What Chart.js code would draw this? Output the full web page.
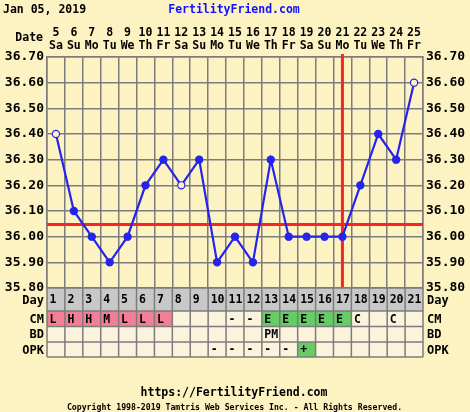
<!DOCTYPE html>
<html>
<head>
<meta charset="utf-8">
<script src="https://cdn.jsdelivr.net/npm/chart.js@4.4.1/dist/chart.umd.min.js"></script>
<style>
  html, body { margin: 0; padding: 0; background: #fdf2c2; }
</style>
</head>
<body>
<canvas id="grafica" width="470" height="412"></canvas>
<script>
// ---- datos ----
const cycleDays = [1, 2, 3, 4, 5, 6, 7, 8, 9, 10, 11, 12, 13, 14, 15, 16, 17, 18, 19, 20, 21];
const dateNums  = [5, 6, 7, 8, 9, 10, 11, 12, 13, 14, 15, 16, 17, 18, 19, 20, 21, 22, 23, 24, 25];
const weekDays  = ['Sa','Su','Mo','Tu','We','Th','Fr','Sa','Su','Mo','Tu','We','Th','Fr','Sa','Su','Mo','Tu','We','Th','Fr'];
const temps     = [36.40, 36.10, 36.00, 35.90, 36.00, 36.20, 36.30, 36.20, 36.30, 35.90, 36.00, 35.90, 36.30,
                   36.00, 36.00, 36.00, 36.00, 36.20, 36.40, 36.30, 36.60];
const openDays  = [1, 8, 21];          // temperaturas descartadas (círculo vacío)
const coverline = 36.05;
const ovulationDay = 17;
const cmObs  = ['L','H','H','M','L','L','L','','','','-','-','E','E','E','E','E','C','','C',''];
const bdObs  = ['','','','','','','','','','','','','PM','','','','','','','',''];
const opkObs = ['','','','','','','','','','-','-','-','-','-','+','','','','','',''];
const tempMin = 35.80, tempMax = 36.70, tempStep = 0.10;

const BG = '#fdf2c2';
const GRID = '#7c7c7c';
const BLUE = '#2424ee';
const RED = '#fa2424';
const FONT = '"DejaVu Sans Mono", monospace';

// ---- plugin: líneas rojas, tabla y textos ----
const extras = {
  id: 'extras',
  beforeDatasetsDraw(chart) {
    const { ctx, chartArea: a, scales: { x, y } } = chart;
    ctx.save();
    ctx.strokeStyle = RED;
    ctx.lineWidth = 3;
    const cy = Math.round(y.getPixelForValue(coverline)) + 0.5;
    ctx.beginPath(); ctx.moveTo(a.left, cy); ctx.lineTo(a.right, cy); ctx.stroke();
    const ox = x.getPixelForValue(ovulationDay - 1);
    ctx.beginPath(); ctx.moveTo(ox, a.top - 3); ctx.lineTo(ox, a.bottom); ctx.stroke();
    ctx.restore();
  },
  afterDraw(chart) {
    const { ctx, chartArea: a, scales: { x } } = chart;
    const colW = (a.right - a.left) / cycleDays.length;
    ctx.save();

    // tabla
    const rows = [
      { label: 'Day', h: 23, vals: cycleDays.map(String) },
      { label: 'CM',  h: 15.5, vals: cmObs },
      { label: 'BD',  h: 15.5, vals: bdObs },
      { label: 'OPK', h: 15, vals: opkObs }
    ];
    let top = a.bottom;
    rows.forEach((r, ri) => {
      cycleDays.forEach((d, i) => {
        const left = x.getPixelForValue(i) - colW / 2;
        const v = r.vals[i];
        let fill = '#fcf3dd';
        if (ri === 0) fill = '#c8c8c8';
        else if (r.label === 'CM' && ['L','H','M'].includes(v)) fill = '#f27f95';
        else if (v === 'E' || v === '+') fill = '#66cc66';
        ctx.fillStyle = fill;
        ctx.fillRect(left, top, colW, r.h);
        if (v) {
          ctx.fillStyle = '#000';
          ctx.font = 'bold 11.5px ' + FONT;
          ctx.textAlign = 'left';
          ctx.textBaseline = 'middle';
          ctx.fillText(v, left + 2.5, top + r.h / 2 + 1);
        }
      });
      ctx.fillStyle = '#000';
      ctx.font = 'bold 12px ' + FONT;
      ctx.textBaseline = 'middle';
      ctx.textAlign = 'right';
      ctx.fillText(r.label, a.left - 3, top + r.h / 2 + 1);
      ctx.textAlign = 'left';
      ctx.fillText(r.label, a.right + 4, top + r.h / 2 + 1);
      r.top = top;
      top += r.h;
    });
    // rejilla de la tabla
    ctx.strokeStyle = GRID;
    ctx.lineWidth = 1.5;
    ctx.beginPath();
    rows.forEach(r => { ctx.moveTo(a.left, r.top); ctx.lineTo(a.right, r.top); });
    ctx.moveTo(a.left, top); ctx.lineTo(a.right, top);
    for (let i = 0; i <= cycleDays.length; i++) {
      const gx = a.left + i * colW;
      ctx.moveTo(gx, a.bottom); ctx.lineTo(gx, top);
    }
    ctx.stroke();

    // textos
    ctx.fillStyle = '#000';
    ctx.textBaseline = 'middle';
    ctx.font = 'bold 11.5px ' + FONT;
    ctx.textAlign = 'left';
    ctx.fillText('Jan 05, 2019', 3, 10.5);
    ctx.textAlign = 'right';
    ctx.fillText('Date', a.left - 4, 38.5);
    ctx.textAlign = 'center';
    ctx.fillStyle = '#1010ff';
    ctx.fillText('FertilityFriend.com', 234, 10.5);
    ctx.fillStyle = '#000';
    ctx.fillText('https://FertilityFriend.com', 234, 393);
    ctx.font = 'bold 8.2px ' + FONT;
    ctx.fillText('Copyright 1998-2019 Tamtris Web Services Inc. - All Rights Reserved.', 234.5, 408);
    ctx.restore();
  }
};

const tickFont = { family: FONT, size: 13, weight: 'bold' };

new Chart(document.getElementById('grafica'), {
  type: 'line',
  data: {
    labels: dateNums.map((d, i) => [String(d), weekDays[i]]),
    datasets: [{
      label: 'Temperatura',
      data: temps,
      xAxisID: 'x',
      yAxisID: 'y',
      borderColor: BLUE,
      borderWidth: 2.2,
      tension: 0,
      pointRadius: 3.6,
      pointBorderWidth: 1.2,
      pointBorderColor: BLUE,
      pointBackgroundColor: cycleDays.map(d => openDays.includes(d) ? BG : BLUE)
    }]
  },
  options: {
    responsive: false,
    devicePixelRatio: 1,
    animation: false,
    layout: { padding: { top: 0, left: 0, right: 0, bottom: 124 } },
    plugins: { legend: { display: false }, tooltip: { enabled: false } },
    scales: {
      x: {
        type: 'category',
        position: 'top',
        offset: true,
        grid: { offset: true, color: GRID, lineWidth: 1.5, drawTicks: false },
        border: { color: GRID, width: 1.5 },
        ticks: {
          color: '#000', autoSkip: false, maxRotation: 0, padding: 4,
          font: { family: FONT, size: 11.5, weight: 'bold', lineHeight: '13px' }
        },
        afterFit: s => { s.height = 57; }
      },
      y: {
        position: 'left',
        min: tempMin, max: tempMax,
        grid: { color: GRID, lineWidth: 1.5, drawTicks: false },
        border: { color: GRID, width: 1.5 },
        ticks: { stepSize: tempStep, color: '#000', padding: 3, font: tickFont, callback: v => v.toFixed(2) },
        afterFit: s => { s.width = 47; }
      },
      y2: {
        position: 'right',
        min: tempMin, max: tempMax,
        grid: { display: false, drawTicks: false },
        border: { color: GRID, width: 1.5 },
        ticks: { stepSize: tempStep, color: '#000', padding: 3, font: tickFont, callback: v => v.toFixed(2) },
        afterFit: s => { s.width = 47; }
      }
    }
  },
  plugins: [extras]
});
</script>
</body>
</html>
